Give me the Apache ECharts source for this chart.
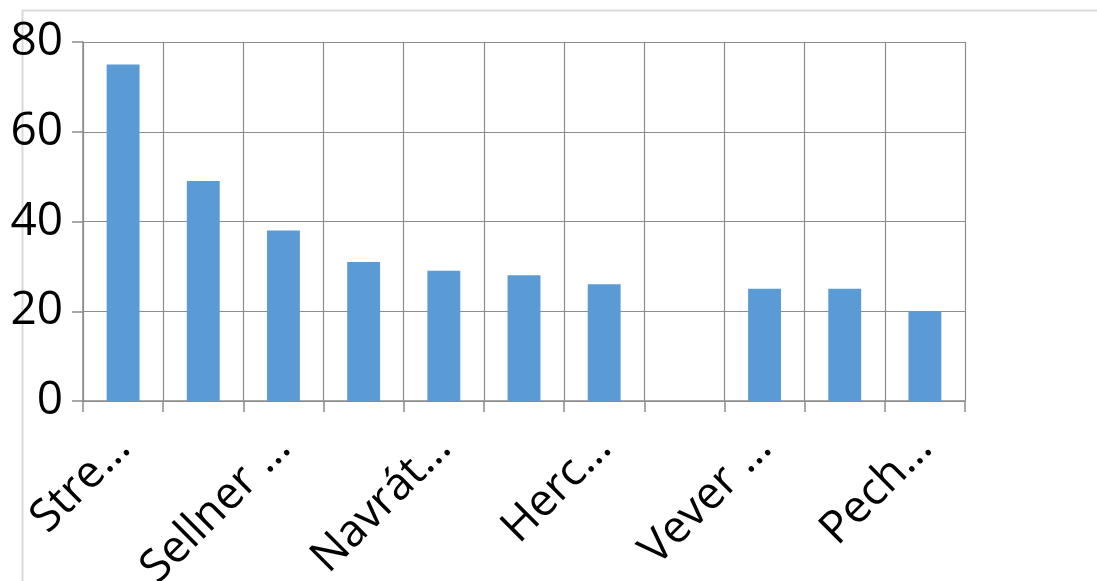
<!DOCTYPE html>
<html>
<head>
<meta charset="utf-8">
<script src="https://cdn.jsdelivr.net/npm/echarts@6/dist/echarts.min.js"></script>
<style>
html,body{margin:0;padding:0;background:#fff;overflow:hidden;}
#chart{width:1097px;height:581px;}
</style>
</head>
<body>
<div id="chart"></div>
<script>
const categories = ["Stre…", "", "Sellner …", "", "Navrát…", "", "Herc…", "", "Vever …", "", "Pech…"];
const values = [75, 49, 38, 31, 29, 28, 26, null, 25, 25, 20];
const yTicks = { min: 0, max: 80, interval: 20 };

const chart = echarts.init(document.getElementById('chart'), null, { renderer: 'canvas' });
chart.setOption({
  animation: false,
  backgroundColor: '#ffffff',
  textStyle: { fontFamily: 'Open Sans' },
  graphic: [{
    type: 'polyline',
    silent: true,
    shape: { points: [[22.5, 581], [22.5, 10.5], [1097, 10.5]] },
    style: { stroke: '#d9d9d9', lineWidth: 2, fill: null }
  }],
  grid: { left: 83, right: 132, top: 42, bottom: 180, containLabel: false, outerBoundsMode: 'none' },
  xAxis: {
    type: 'category',
    data: categories,
    boundaryGap: true,
    axisLine: { show: true, lineStyle: { color: '#8c8c8c', width: 1.5 } },
    axisTick: { show: true, interval: 0, length: 11, lineStyle: { color: '#8c8c8c', width: 1.5 } },
    splitLine: { show: true, interval: 0, lineStyle: { color: '#8c8c8c', width: 1.2 } },
    axisLabel: {
      interval: 1, rotate: 45, margin: 40,
      fontSize: 45, color: '#000', fontFamily: 'Open Sans'
    }
  },
  yAxis: {
    type: 'value',
    min: yTicks.min, max: yTicks.max, interval: yTicks.interval,
    axisLine: { show: true, lineStyle: { color: '#8c8c8c', width: 1.5 } },
    axisTick: { show: true, length: 11, lineStyle: { color: '#8c8c8c', width: 1.5 } },
    splitLine: { show: true, lineStyle: { color: '#8c8c8c', width: 1.2 } },
    axisLabel: { margin: 20, fontSize: 46, color: '#000', fontFamily: 'Open Sans' }
  },
  series: [{
    type: 'bar',
    data: values,
    barWidth: '41%',
    itemStyle: { color: '#5b9bd5' }
  }]
});
</script>
</body>
</html>
